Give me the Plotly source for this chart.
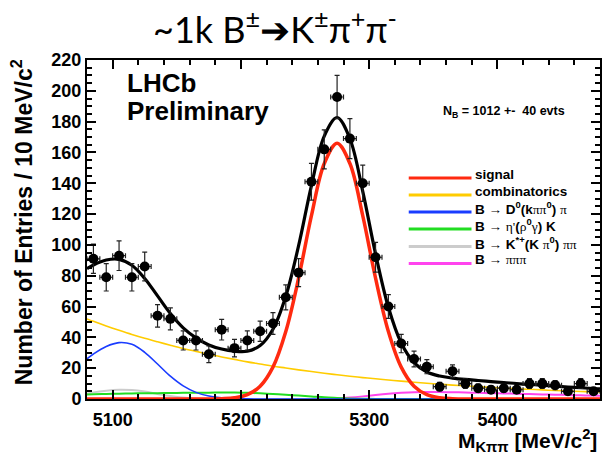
import plotly.graph_objects as go

# ---------------- data ----------------
bin_centers = list(range(5085, 5480, 10))
counts = [91, 79, 93, 79, 86, 54, 52, 38, 38, 29, 45, 33, 38, 44, 49, 66, 82, 141, 162, 196,
          169, 140, 92, 60, 36, 26, 21, 8, 18, 10, 7, 6, 7, 6, 10, 10, 9, 5, 10, 5]
count_errors = [9.5, 8.9, 9.6, 8.9, 9.3, 7.3, 7.2, 6.2, 6.2, 5.4, 6.7, 5.7, 6.2, 6.6, 7.0, 8.1, 9.1,
                11.9, 12.7, 14.0, 13.0, 11.8, 9.6, 7.7, 6.0, 5.1, 4.6, 2.8, 4.2, 3.2, 2.6, 2.4, 2.6,
                2.4, 3.2, 3.2, 3.0, 2.2, 3.2, 2.2]
bin_half_width = 5

fit_mass = [5080] + list(range(5085, 5480, 10)) + [5480]
fit_total = [84.6, 87.0, 90.2, 90.6, 86.8, 78.2, 66.9, 55.5, 46.2, 39.7, 35.1, 32.4, 31.0, 31.0,
             34.7, 45.3, 66.7, 99.5, 138.5, 170.6, 182.7, 168.9, 134.8, 94.2, 59.5, 36.3, 23.6,
             17.5, 14.9, 13.6, 12.7, 12.0, 11.3, 10.7, 10.0, 9.5, 8.9, 8.3, 7.8, 7.3, 6.8, 6.6]
fit_signal = [0] * 11 + [0.2, 0.8, 2.8, 8.3, 20.7, 43.8, 78.4, 119.0, 152.8, 166.0, 152.8, 119.0,
                         78.4, 43.8, 20.7, 8.3, 2.8, 0.8, 0.2] + [0] * 12
fit_combinatorics = [52.0, 50.4, 47.4, 44.6, 41.9, 39.4, 37.1, 34.9, 32.8, 30.9, 29.0, 27.3, 25.7,
                     24.1, 22.7, 21.3, 20.1, 18.9, 17.8, 16.7, 15.7, 14.8, 13.9, 13.1, 12.3, 11.6,
                     10.9, 10.2, 9.6, 9.0, 8.5, 8.0, 7.5, 7.1, 6.6, 6.3, 5.9, 5.5, 5.2, 4.9, 4.6, 4.5]
fit_d0pi = [26.1, 29.2, 34.1, 36.6, 35.5, 30.3, 22.7, 14.8, 8.5, 4.3, 1.9, 0.7, 0.25, 0.07] + [0] * 28
fit_etaprime = [3.0, 3.1, 3.3, 3.4, 3.6, 3.7, 3.8, 3.9, 4.0, 4.1, 4.1, 4.2, 4.2, 4.0, 3.7, 3.3, 2.8,
                2.2, 1.7, 1.1, 0.7, 0.35, 0.15, 0.05] + [0] * 18
fit_kstar = [3.5, 4.3, 5.4, 6.0, 5.8, 4.8, 3.3, 1.9, 0.9, 0.35, 0.1] + [0] * 31
fit_pipipi = [0] * 20 + [0.3, 0.9, 1.7, 2.6, 3.4, 4.0, 4.4, 4.5, 4.5, 4.4, 4.2, 4.0, 3.8, 3.6, 3.4,
                         3.2, 3.0, 2.8, 2.6, 2.4, 2.2, 2.1]

x_ticks = [5100, 5200, 5300, 5400]
y_ticks = list(range(0, 221, 20))

SERIF = "<span style=\"font-family:'Liberation Serif';font-weight:normal\">%s</span>"
legend_labels = [
    "signal",
    "combinatorics",
    "B → D<sup>0</sup>(k" + SERIF % "ππ" + "<sup>0</sup>) " + SERIF % "π",
    "B → " + SERIF % "η'" + "(" + SERIF % "ρ" + "<sup>0</sup>" + SERIF % "γ" + ") K",
    "B → K<sup>*+</sup>(K " + SERIF % "π" + "<sup>0</sup>) " + SERIF % "ππ",
    "B → " + SERIF % "πππ",
]
legend_colors = ["#ff2a10", "#ffcc00", "#1a3cff", "#22dd22", "#cccccc", "#ff44ee"]

# ---------------- figure ----------------
W, H = 605, 456
ML, MR, MT, MB = 87, 3, 60, 57
PW, PH = W - ML - MR, H - MT - MB


def px(xp):
    return (xp - ML) / PW


def py(yp):
    return (H - MB - yp) / PH


fig = go.Figure()

components = [
    (fit_pipipi, legend_colors[5], 2),
    (fit_kstar, legend_colors[4], 2),
    (fit_etaprime, legend_colors[3], 2),
    (fit_d0pi, legend_colors[2], 1.6),
    (fit_combinatorics, legend_colors[1], 1.6),
    (fit_signal, legend_colors[0], 3.5),
]
for vals, col, lw in components:
    fig.add_trace(go.Scatter(x=fit_mass, y=vals, mode="lines",
                             line=dict(color=col, width=lw, shape="spline"),
                             hoverinfo="skip"))

fig.add_trace(go.Scatter(x=fit_mass, y=fit_total, mode="lines",
                         line=dict(color="black", width=3.2, shape="spline"), hoverinfo="skip"))

fig.add_trace(go.Scatter(
    x=bin_centers, y=counts, mode="markers",
    marker=dict(color="black", size=10, symbol="circle"),
    error_y=dict(type="data", array=count_errors, visible=True, color="#222222",
                 thickness=1.2, width=2.5),
    error_x=dict(type="constant", value=bin_half_width, visible=True, color="#222222",
                 thickness=1.2, width=2.5),
))

axis_font = dict(family="Liberation Sans, Arial, sans-serif", size=18, color="black", weight="bold")

fig.update_xaxes(range=[5080, 5480], tickvals=x_ticks, showgrid=False, zeroline=False,
                 showline=True, linecolor="black", linewidth=2, mirror="allticks",
                 ticks="inside", ticklen=9, tickwidth=2, tickcolor="black", tickfont=axis_font,
                 ticklabelstandoff=3,
                 minor=dict(dtick=20, tick0=5000, ticks="inside", ticklen=5, tickwidth=1.5,
                            tickcolor="black", showgrid=False))
fig.update_yaxes(range=[0, 220], tickvals=y_ticks, showgrid=False, zeroline=False,
                 showline=True, linecolor="black", linewidth=2, mirror="allticks",
                 ticks="inside", ticklen=9, tickwidth=2, tickcolor="black", tickfont=axis_font,
                 minor=dict(dtick=5, tick0=0, ticks="inside", ticklen=5, tickwidth=1.5,
                            tickcolor="black", showgrid=False))

ann = []
bold = dict(family="Liberation Sans, Arial, sans-serif", color="black", weight="bold")

# title
ann.append(dict(x=px(276), y=py(27), xref="paper", yref="paper", showarrow=False,
                xanchor="center", yanchor="middle",
                text="~1k B<sup>±</sup>➔K<sup>±</sup>π<sup>+</sup>π<sup>-</sup>",
                font=dict(family="Lato, Open Sans, sans-serif", size=36, color="black")))
# LHCb Preliminary
ann.append(dict(x=px(125), y=py(83), xref="paper", yref="paper", showarrow=False,
                xanchor="left", yanchor="middle", text="LHCb", font=dict(bold, size=26)))
ann.append(dict(x=px(125), y=py(111), xref="paper", yref="paper", showarrow=False,
                xanchor="left", yanchor="middle", text="Preliminary", font=dict(bold, size=26)))
# N_B
ann.append(dict(x=px(442), y=py(112), xref="paper", yref="paper", showarrow=False,
                xanchor="left", yanchor="middle",
                text="N<sub>B</sub> = 1012 +-&nbsp; 40 evts", font=dict(bold, size=12.5)))
# axis titles
ann.append(dict(x=px(601), y=py(440), xref="paper", yref="paper", showarrow=False,
                xanchor="right", yanchor="middle",
                text="M<sub>Kππ</sub> [MeV/c<sup>2</sup>]", font=dict(bold, size=21)))
ann.append(dict(x=px(22), y=py(57), xref="paper", yref="paper", showarrow=False,
                xanchor="center", yanchor="top", textangle=-90,
                text="Number of Entries / 10 MeV/c<sup>2</sup>", font=dict(bold, size=23)))

shapes = []
row_y = [178, 195, 212, 229, 246.5, 263.5]
for lab, col, yy in zip(legend_labels, legend_colors, row_y):
    shapes.append(dict(type="line", xref="paper", yref="paper", x0=px(410), x1=px(473),
                       y0=py(yy), y1=py(yy), line=dict(color=col, width=3)))
    ann.append(dict(x=px(475), y=py(yy - 4), xref="paper", yref="paper", showarrow=False,
                    xanchor="left", yanchor="middle", text=lab, font=dict(bold, size=13.5)))

fig.update_layout(width=W, height=H, margin=dict(l=ML, r=MR, t=MT, b=MB),
                  plot_bgcolor="white", paper_bgcolor="white", showlegend=False,
                  annotations=ann, shapes=shapes)

fig.write_html("out.html")
